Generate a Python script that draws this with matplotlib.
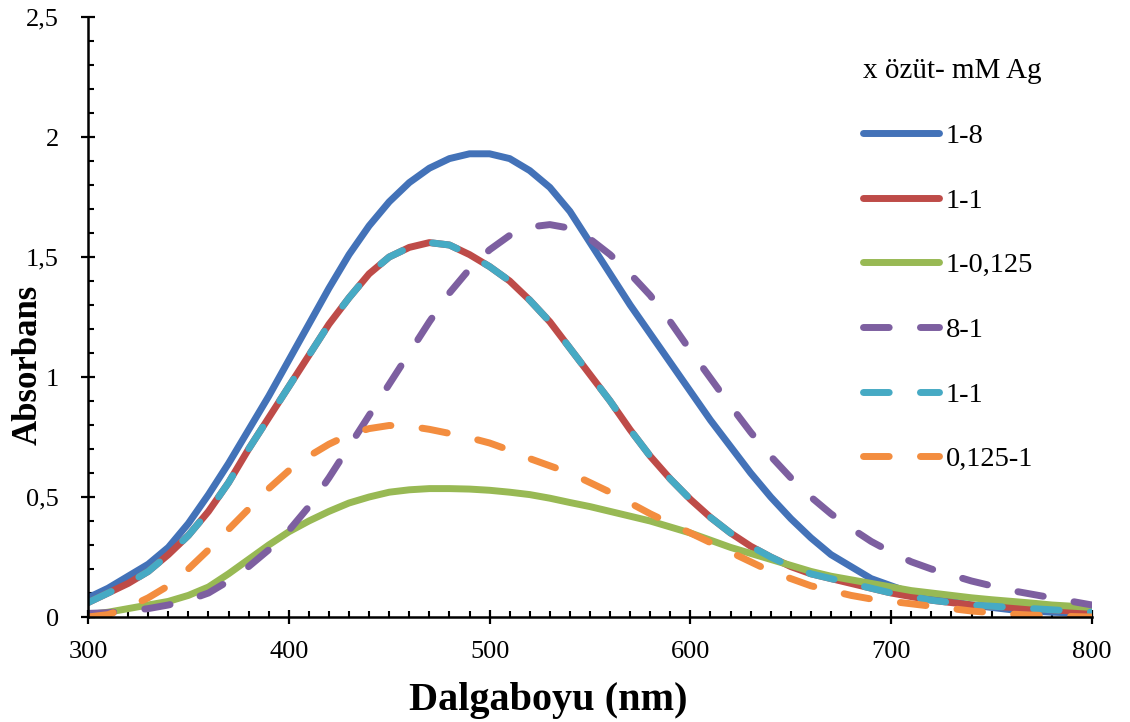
import matplotlib
matplotlib.use("Agg")
import matplotlib.pyplot as plt
from matplotlib.ticker import MultipleLocator

plt.rcParams["font.family"] = ["Liberation Serif", "DejaVu Serif"]

# wavelengths (nm), every 10 nm from 300 to 800
wl = list(range(300, 801, 10))

# absorbance values
a_1_8 = [0.08, 0.12, 0.17, 0.22, 0.29, 0.39, 0.51, 0.64, 0.78, 0.92,
         1.07, 1.22, 1.37, 1.51, 1.63, 1.73, 1.81, 1.87, 1.91, 1.93,
         1.93, 1.91, 1.86, 1.79, 1.69, 1.56, 1.43, 1.30, 1.18, 1.06,
         0.94, 0.82, 0.71, 0.60, 0.50, 0.41, 0.33, 0.26, 0.21, 0.16,
         0.13, 0.10, 0.08, 0.065, 0.05, 0.04, 0.03, 0.025, 0.02, 0.017,
         0.015]
a_1_1 = [0.06, 0.10, 0.14, 0.19, 0.26, 0.34, 0.44, 0.56, 0.70, 0.83,
         0.96, 1.09, 1.22, 1.33, 1.43, 1.50, 1.54, 1.56, 1.55, 1.51,
         1.46, 1.40, 1.32, 1.23, 1.12, 1.01, 0.90, 0.78, 0.67, 0.575,
         0.49, 0.415, 0.35, 0.295, 0.25, 0.21, 0.18, 0.16, 0.14, 0.12,
         0.10, 0.085, 0.07, 0.06, 0.05, 0.045, 0.04, 0.035, 0.03, 0.025,
         0.02]
a_1_0125 = [0.01, 0.02, 0.035, 0.05, 0.065, 0.09, 0.125, 0.18, 0.24, 0.30,
            0.355, 0.40, 0.44, 0.475, 0.50, 0.52, 0.53, 0.535, 0.535, 0.533,
            0.528, 0.52, 0.51, 0.495, 0.477, 0.46, 0.44, 0.42, 0.40, 0.375,
            0.35, 0.32, 0.29, 0.265, 0.24, 0.215, 0.19, 0.17, 0.155, 0.14,
            0.125, 0.11, 0.10, 0.09, 0.08, 0.072, 0.065, 0.058, 0.05, 0.045,
            0.04]
a_8_1 = [0.015, 0.018, 0.025, 0.035, 0.05, 0.07, 0.10, 0.15, 0.21, 0.28,
         0.36, 0.46, 0.58, 0.71, 0.84, 0.97, 1.10, 1.23, 1.35, 1.45,
         1.53, 1.59, 1.625, 1.635, 1.62, 1.575, 1.51, 1.43, 1.34, 1.23,
         1.11, 0.995, 0.88, 0.77, 0.67, 0.58, 0.50, 0.43, 0.37, 0.315,
         0.27, 0.23, 0.20, 0.175, 0.15, 0.13, 0.11, 0.095, 0.08, 0.065,
         0.05]
a_0125_1 = [0.0, 0.01, 0.04, 0.08, 0.13, 0.20, 0.28, 0.365, 0.45, 0.535,
            0.61, 0.67, 0.72, 0.76, 0.785, 0.798, 0.795, 0.782, 0.765, 0.747,
            0.725, 0.695, 0.66, 0.63, 0.60, 0.56, 0.52, 0.475, 0.43, 0.39,
            0.35, 0.31, 0.27, 0.23, 0.19, 0.16, 0.13, 0.11, 0.09, 0.075,
            0.065, 0.055, 0.045, 0.035, 0.025, 0.018, 0.012, 0.008, 0.005, 0.002,
            0.0]

labels = ["1-8", "1-1", "1-0,125", "8-1", "1-1", "0,125-1"]
series = [a_1_8, a_1_1, a_1_0125, a_8_1, a_1_1, a_0125_1]
colors = ["#4372B8", "#BE4B48", "#98B954", "#7D5FA0", "#46AAC4", "#F38D3F"]
dashed = [False, False, False, True, True, True]

yticks = [0, 0.5, 1, 1.5, 2, 2.5]
ytick_labels = ["0", "0,5", "1", "1,5", "2", "2,5"]
xticks = [300, 400, 500, 600, 700, 800]

fig = plt.figure(figsize=(11.3, 7.22), dpi=100)
ax = fig.add_axes([88 / 1130, 105 / 722, 1004 / 1130, 600 / 722])

for ys, lab, col, d in zip(series, labels, colors, dashed):
    line, = ax.plot(wl, ys, color=col, lw=5, label=lab,
                    solid_capstyle="round", dash_capstyle="round")
    if d:
        line.set_dashes([3.7, 4.5])

ax.set_xlim(300, 800)
ax.set_ylim(0, 2.5)
ax.set_xticks(xticks)
ax.set_yticks(yticks)
ax.set_yticklabels(ytick_labels)
ax.xaxis.set_minor_locator(MultipleLocator(10))
ax.yaxis.set_minor_locator(MultipleLocator(0.1))

for s in ["top", "right"]:
    ax.spines[s].set_visible(False)
for s in ["left", "bottom"]:
    ax.spines[s].set_linewidth(1.8)
ax.tick_params(which="major", direction="inout", length=10, width=1.6,
               labelsize=19)
ax.tick_params(which="minor", direction="in", length=4, width=1.5)
ax.tick_params(axis="x", which="major", pad=12)
ax.tick_params(axis="y", which="major", pad=16)

ax.set_xlabel("Dalgaboyu (nm)", fontsize=29, fontweight="bold")
ax.set_ylabel("Absorbans", fontsize=25, fontweight="bold")
ax.xaxis.set_label_coords(0.458, -0.108)
ax.yaxis.set_label_coords(-0.043, 0.42)

leg = ax.legend(title="x özüt- mM Ag", loc="upper left",
                bbox_to_anchor=(852 / 1130, 1 - 47 / 722),
                bbox_transform=fig.transFigure, frameon=False, fontsize=20.5,
                title_fontsize=21, handlelength=2.65, handletextpad=0.25,
                labelspacing=1.36, alignment="left", borderaxespad=0)
leg.get_title().set_fontfamily(["Liberation Serif", "DejaVu Serif"])

fig.savefig("out.png", dpi=100)
